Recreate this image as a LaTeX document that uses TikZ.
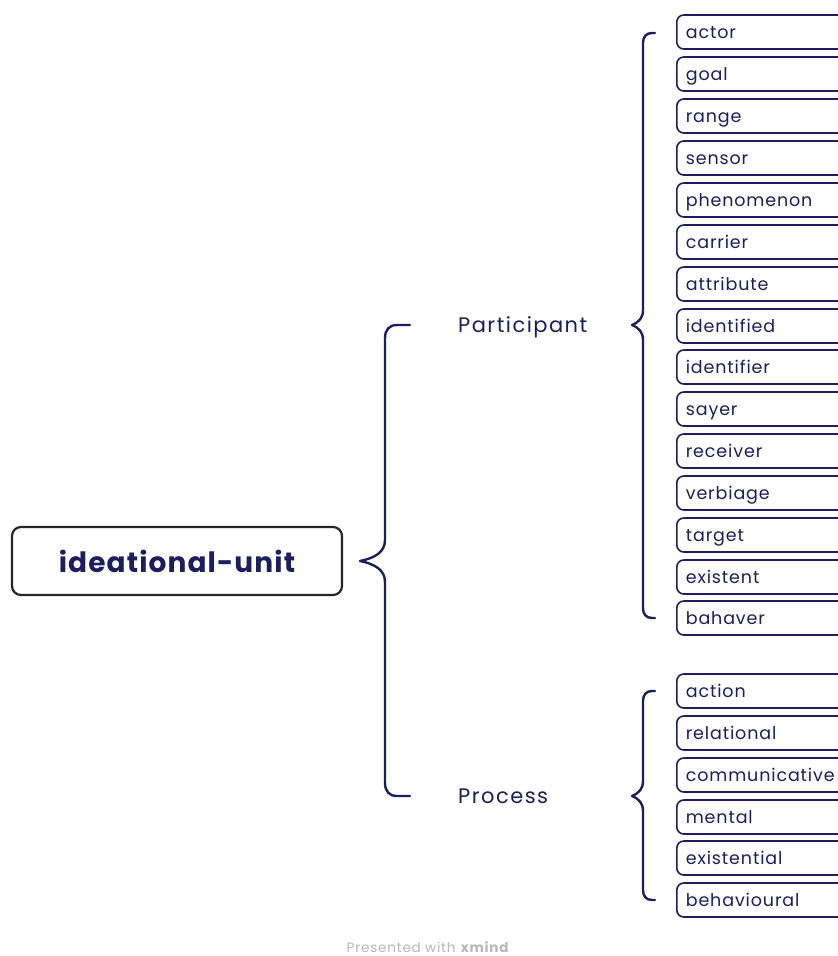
\documentclass[tikz,border=0pt]{standalone}
\usepackage{fontspec}
\setmainfont{Poppins}
\newfontfamily\leaffont[LetterSpace=5]{Poppins}
\newfontfamily\branchfont[LetterSpace=7]{Poppins}
\newfontfamily\rootfont[LetterSpace=4]{Poppins}
\newfontfamily\footfont[LetterSpace=6]{Poppins}
\definecolor{navy}{HTML}{1B1F5E}
\definecolor{foot}{HTML}{B8B8B8}
\begin{document}
\begin{tikzpicture}[x=1pt,y=-1pt,
  rootbox/.style={draw=black!85, line width=2.2pt, rounded corners=9pt, minimum width=330pt, minimum height=68pt, inner sep=0pt, text=navy, font=\rootfont\fontsize{28}{32}\selectfont\bfseries},
  branch/.style={anchor=west, inner sep=0pt, text height=17pt, text depth=2pt, text=navy, font=\branchfont\fontsize{21}{24}\selectfont},
  leaf/.style={draw=navy, line width=1.6pt, rounded corners=7pt, anchor=west, minimum height=34pt, minimum width=190pt, text width=174pt, align=left, inner xsep=9pt, inner ysep=0pt, text height=14pt, text depth=1.5pt, text=navy, font=\leaffont\fontsize{17.5}{20}\selectfont},
  brace/.style={draw=navy, line width=2.4pt, line cap=round, line join=round}]
\useasboundingbox (0,0) rectangle (838,956);
\clip (0,0) rectangle (838,956);
\fill[white] (0,0) rectangle (838,956);

\node[rootbox] (root) at (177,561) {ideational-unit};
\node[branch] (part) at (458,325) {Participant};
\node[branch] (proc) at (458,796) {Process};

% main brace
\draw[brace] (410,325) -- (397,325) .. controls (389,325) and (385,330) .. (385,338)
  -- (385,540) .. controls (385,552) and (375,558) .. (360,561)
  .. controls (375,564) and (385,570) .. (385,582)
  -- (385,783) .. controls (385,791) and (389,796) .. (397,796) -- (410,796);

% participant brace
\draw[brace] (655,33) -- (652,33) .. controls (646,33) and (643,37) .. (643,43)
  -- (643,310) .. controls (643,318) and (639,322) .. (632,325)
  .. controls (639,328) and (643,332) .. (643,340)
  -- (643,608) .. controls (643,614) and (646,618) .. (652,618) -- (655,618);

% process brace
\draw[brace] (655,691) -- (652,691) .. controls (646,691) and (643,695) .. (643,701)
  -- (643,781) .. controls (643,789) and (639,793) .. (632,796)
  .. controls (639,799) and (643,803) .. (643,811)
  -- (643,890) .. controls (643,896) and (646,900) .. (652,900) -- (655,900);

\foreach \t/\y/\n in {actor/32/p1, goal/74/p2, range/116/p3, sensor/158/p4, phenomenon/200/p5, carrier/242/p6, attribute/284/p7, identified/326/p8, identifier/367/p9, sayer/409/p10, receiver/451/p11, verbiage/493/p12, target/535/p13, existent/577/p14, bahaver/618/p15, action/691/q1, relational/733/q2, communicative/775/q3, mental/817/q4, existential/858/q5, behavioural/900/q6}
  \node[leaf] (\n) at (676,\y) {\t};

\node[text=foot, font=\footfont\fontsize{13.5}{15}\selectfont, inner sep=0pt] (footer) at (428,947) {Presented with \textbf{xmind}};
\end{tikzpicture}
\end{document}
